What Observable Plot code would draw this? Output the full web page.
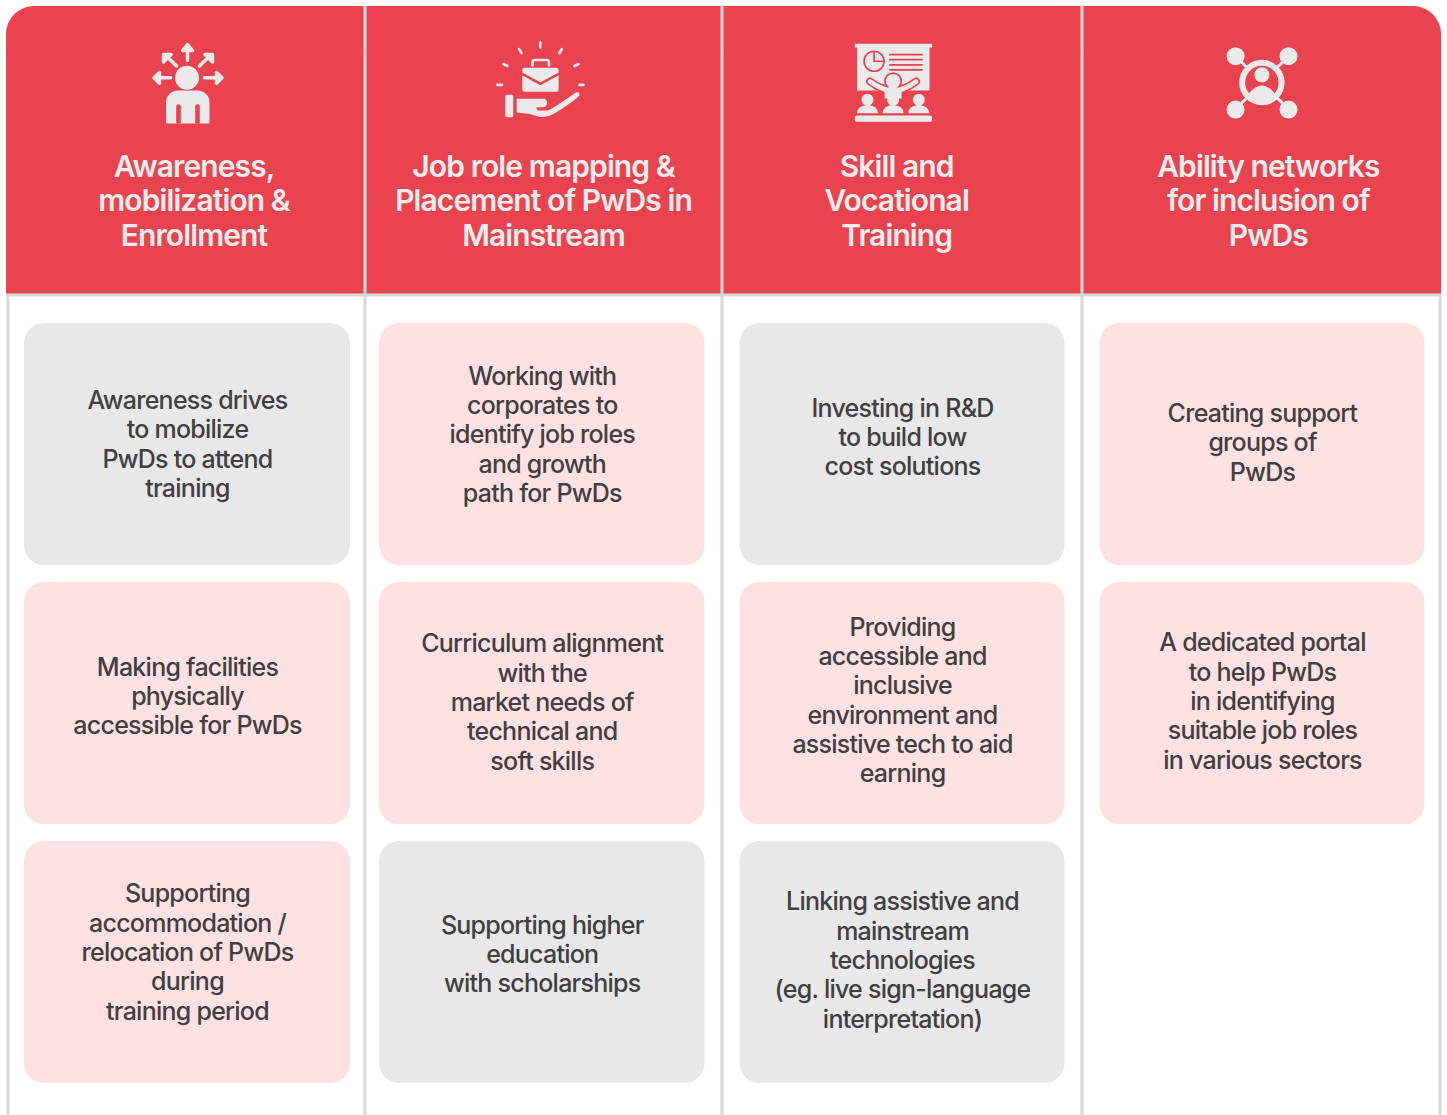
<!DOCTYPE html>
<html><head><meta charset="utf-8">
<script src="https://cdn.jsdelivr.net/npm/d3@7"></script>
<script src="https://cdn.jsdelivr.net/npm/@observablehq/plot@0.6"></script>
<style>
html,body{margin:0;padding:0;background:#fff}
svg text{letter-spacing:-.03em}
</style></head><body><div id="chart"></div>
<script>
const headers = ["Awareness,\nmobilization &\nEnrollment","Job role mapping &\nPlacement of PwDs in\nMainstream","Skill and\nVocational\nTraining","Ability networks\nfor inclusion of\nPwDs"];
const cardColumn = [0,0,0,1,1,1,2,2,2,3,3];
const cardRow    = [0,1,2,0,1,2,0,1,2,0,1];
const cardTone   = ["neutral","accent","accent","accent","accent","neutral","neutral","accent","neutral","accent","accent"];
const cardText = [
 "Awareness drives\nto mobilize\nPwDs to attend\ntraining",
 "Making facilities\nphysically\naccessible for PwDs",
 "Supporting\naccommodation /\nrelocation of PwDs\nduring\ntraining period",
 "Working with\ncorporates to\nidentify job roles\nand growth\npath for PwDs",
 "Curriculum alignment\nwith the\nmarket needs of\ntechnical and\nsoft skills",
 "Supporting higher\neducation\nwith scholarships",
 "Investing in R&D\nto build low\ncost solutions",
 "Providing\naccessible and\ninclusive\nenvironment and\nassistive tech to aid\nearning",
 "Linking assistive and\nmainstream\ntechnologies\n(eg. live sign-language\ninterpretation)",
 "Creating support\ngroups of\nPwDs",
 "A dedicated portal\nto help PwDs\nin identifying\nsuitable job roles\nin various sectors"
];
const cardTextAnchor = [.496,.467,.455,.457,.492,.463,.467,.484,.488,.49,.488];
const headerAnchor = [1.52,4.504,7.482,10.518];
const iconAnchor = [1.5,4.496,7.471,10.498];

const xTracks = [6,24,350,364.5,379,704.5,721.5,739.5,1064.5,1081.5,1099.5,1424.5,1441];
const yTracks = [6,294,323,565,582,824,841,1083,1115];
const RED="#E9434F", ICON="#EAEAEA", LINE="#D9D9D9";

const cards = cardText.map((text,i)=>({text,col:cardColumn[i],row:cardRow[i],tone:cardTone[i],a:cardTextAnchor[i]}));
const heads = headers.map((text,i)=>({text,x:headerAnchor[i]}));

const sym = draw => ({draw});
const circle=(c,x,y,r)=>{c.moveTo(x+r,y);c.arc(x,y,r,0,2*Math.PI);c.closePath();};
const poly=(c,pts,close=true)=>{pts.forEach(([x,y],i)=>i?c.lineTo(x,y):c.moveTo(x,y));if(close)c.closePath();};
const line=(c,...pts)=>poly(c,pts,false);

const icons = [
 [ // person with arrows
  {fill:ICON,stroke:ICON,sw:3.5,draw:c=>{
    line(c,[0,-22],[0,-31]);poly(c,[[-5,-32],[0,-38],[5,-32]]);
    line(c,[-17,-4.7],[-28,-4.7]);poly(c,[[-28,-10],[-33.5,-4.7],[-28,.6]]);
    line(c,[17,-4.7],[29,-4.7]);poly(c,[[29,-10],[34.5,-4.7],[29,.6]]);
    line(c,[-11,-16.5],[-20,-25.5]);poly(c,[[-24,-28],[-24,-20.5],[-16.5,-28]]);
    line(c,[12,-16.5],[21,-25.5]);poly(c,[[25,-28],[25,-20.5],[17.5,-28]]);
  }},
  {fill:ICON,draw:c=>{
    circle(c,-.5,-4.7,12);
    c.moveTo(-21.5,40);c.lineTo(-21.5,20);c.arcTo(-21.5,8,-9.5,8,12);c.lineTo(10,8);c.arcTo(22,8,22,20,12);c.lineTo(22,40);c.quadraticCurveTo(22,41,21,41);c.lineTo(-20.5,41);c.quadraticCurveTo(-21.5,41,-21.5,40);c.closePath();
  }},
  {fill:RED,draw:c=>{
    c.moveTo(-11.3,41);c.lineTo(-11.3,24);c.arc(-9,24,2.3,Math.PI,0);c.lineTo(-6.7,41);c.closePath();
    c.moveTo(7.7,41);c.lineTo(7.7,24);c.arc(10,24,2.3,Math.PI,0);c.lineTo(12.3,41);c.closePath();
  }}
 ],
 [ // hand with briefcase
  {fill:"none",stroke:ICON,sw:2.6,draw:c=>{
    line(c,[-.7,-40],[-.7,-35]);line(c,[-22,-33.5],[-19.5,-29.5]);line(c,[21,-33.5],[18.5,-29.5]);
    line(c,[-37.5,-18.5],[-33.5,-16.5]);line(c,[33.5,-16.5],[37.5,-18.5]);
    line(c,[-43.5,2.3],[-39,2.3]);line(c,[38.5,2.3],[42.5,2.3]);
    line(c,[-8.5,-17],[-8.5,-20]);c.arcTo(-8.5,-22.5,-6,-22.5,2.5);c.lineTo(5.5,-22.5);c.arcTo(8,-22.5,8,-20,2.5);c.lineTo(8,-17);
  }},
  {fill:ICON,draw:c=>{
    c.moveTo(-18.7,-12);c.arcTo(-18.7,-14.7,-16,-14.7,2.7);c.lineTo(15,-14.7);c.arcTo(17.7,-14.7,17.7,-12,2.7);c.lineTo(17.7,7);c.arcTo(17.7,9.3,15.5,9.3,2.3);c.lineTo(-16.5,9.3);c.arcTo(-18.7,9.3,-18.7,7,2.3);c.closePath();
    c.moveTo(-35.7,14);c.arcTo(-35.7,12.3,-34,12.3,1.7);c.lineTo(-29.5,12.3);c.arcTo(-27.7,12.3,-27.7,14,1.7);c.lineTo(-27.7,33);c.arcTo(-27.7,34.7,-29.5,34.7,1.7);c.lineTo(-34,34.7);c.arcTo(-35.7,34.7,-35.7,33,1.7);c.closePath();
    c.moveTo(-24.3,16.3);c.lineTo(4,16.3);c.quadraticCurveTo(8.5,20,4,24.5);c.lineTo(-5,25);c.lineTo(-3,28);c.lineTo(7,28);c.quadraticCurveTo(12,26,35,10);c.quadraticCurveTo(39,8.5,38.5,13);c.quadraticCurveTo(34,18,15,30);c.quadraticCurveTo(7,35,-1,34.5);c.lineTo(-11,31.5);c.lineTo(-24.3,30);c.closePath();
  }},
  {fill:"none",stroke:RED,sw:2.4,draw:c=>{line(c,[-18.7,-8.7],[-.7,1.3],[17.7,-8.7]);}}
 ],
 [ // presentation
  {fill:ICON,draw:c=>{
    c.rect(-38.3,-38.7,77.3,3.6);
    c.rect(-36,-35,72.4,43);
    for(const x of [-25.6,0,25.7]){
      circle(c,x,17.3,6);
      c.moveTo(x-10.5,30.7);c.quadraticCurveTo(x-10,23,x,22.5);c.quadraticCurveTo(x+10,23,x+10.5,30.7);c.closePath();
    }
    c.moveTo(-38.3,35);c.arcTo(-38.3,33,-36,33,2.2);c.lineTo(36.8,33);c.arcTo(39,33,39,35,2.2);c.lineTo(39,37);c.arcTo(39,39.3,36.8,39.3,2.2);c.lineTo(-36,39.3);c.arcTo(-38.3,39.3,-38.3,37,2.2);c.closePath();
  }},
  {fill:"none",stroke:RED,sw:1.7,draw:c=>{
    circle(c,-19,-21.3,10);line(c,[-19,-31.3],[-19,-21.3],[-9,-21.3]);
    for(const y of [-28,-23,-17.7,-12.7]) line(c,[-3.3,y],[29,y]);
  }},
  {fill:"none",stroke:RED,sw:8,cap:"round",draw:c=>{
    line(c,[-23,-1],[-17,3],[-8,7]);line(c,[23,-1],[17,3],[8,7]);
  }},
  {fill:RED,draw:c=>{circle(c,0,-1.3,9);c.rect(-10,2,20,10);}},
  {fill:ICON,draw:c=>{circle(c,0,-1.3,7.3);c.rect(-8.5,5,17,11);}},
  {fill:"none",stroke:ICON,sw:4.8,cap:"round",draw:c=>{
    line(c,[-23,-1],[-17,3],[-8,7]);line(c,[23,-1],[17,3],[8,7]);
  }}
 ],
 [ // network
  {fill:"none",stroke:ICON,sw:3,draw:c=>{
    line(c,[-26,-26],[-14,-14]);line(c,[26.7,-26],[14,-14]);line(c,[-26,27],[-14,14]);line(c,[26.7,27],[14,14]);
  }},
  {fill:"none",stroke:ICON,sw:6,draw:c=>{circle(c,0,0,19.7);}},
  {fill:ICON,draw:c=>{
    circle(c,-26.3,-26.3,9);circle(c,26.7,-26.3,9);circle(c,-26.3,27,9);circle(c,26.7,27,9);
    circle(c,0,-7.7,7.5);
    c.moveTo(-13,11);c.quadraticCurveTo(0,-5,13,11);c.arc(0,0,18,.7,Math.PI-.7);c.closePath();
  }}
 ]
];
const iconY = 0.264;

const iconMarks = icons.flatMap((layers,i)=>layers.map(l=>
  Plot.dot([iconAnchor[i]],{x:d=>d,y:()=>iconY,r:1,symbol:sym(l.draw),fill:l.fill,
    stroke:l.stroke||"none",strokeWidth:l.sw||0,strokeLinecap:l.cap||"round",strokeLinejoin:"round"})));

const chart = Plot.plot({
  width:1447,height:1115,margin:0,
  style:{background:"#fff"},
  x:{type:"linear",axis:null,domain:xTracks.map((_,i)=>i),range:xTracks},
  y:{type:"linear",axis:null,domain:yTracks.map((_,i)=>i),range:yTracks},
  color:{type:"ordinal",domain:["neutral","accent"],range:["#E8E8E8","#FEE1E3"]},
  marks:[
    Plot.rect([0],{x1:()=>0,x2:()=>12,y1:()=>0,y2:()=>0.5,fill:RED,rx:28,ry:28}),
    Plot.rect([0],{x1:()=>0,x2:()=>12,y1:()=>0.15,y2:()=>1,fill:RED}),
    Plot.ruleX([0],{x:d=>d,y1:1,y2:8,stroke:LINE,strokeWidth:3,dx:1.5}),
    Plot.ruleX([12],{x:d=>d,y1:1,y2:8,stroke:LINE,strokeWidth:3,dx:-1.5}),
    Plot.ruleX([3,6,9],{x:d=>d,y1:0,y2:8,stroke:LINE,strokeWidth:3}),
    Plot.ruleY([1],{y:d=>d,x1:0,x2:12,stroke:LINE,strokeWidth:3,dy:.5}),
    Plot.rect(cards,{x1:d=>d.col*3+1,x2:d=>d.col*3+2,y1:d=>d.row*2+2,y2:d=>d.row*2+3,fill:"tone",rx:20,ry:20}),
    ...iconMarks,
    Plot.text(heads,{x:"x",y:()=>0.673,text:"text",fill:"#EDEDED",fontSize:30,fontWeight:600,lineHeight:1.15,fontFamily:"Inter, sans-serif"}),
    Plot.text(cards,{x:d=>d.col*3+1.5,y:d=>d.row*2+2+d.a,text:"text",fill:"#404040",fontSize:25,fontWeight:500,lineHeight:1.172,fontFamily:"Inter, sans-serif"})
  ]
});
document.getElementById("chart").appendChild(chart);
</script></body></html>
